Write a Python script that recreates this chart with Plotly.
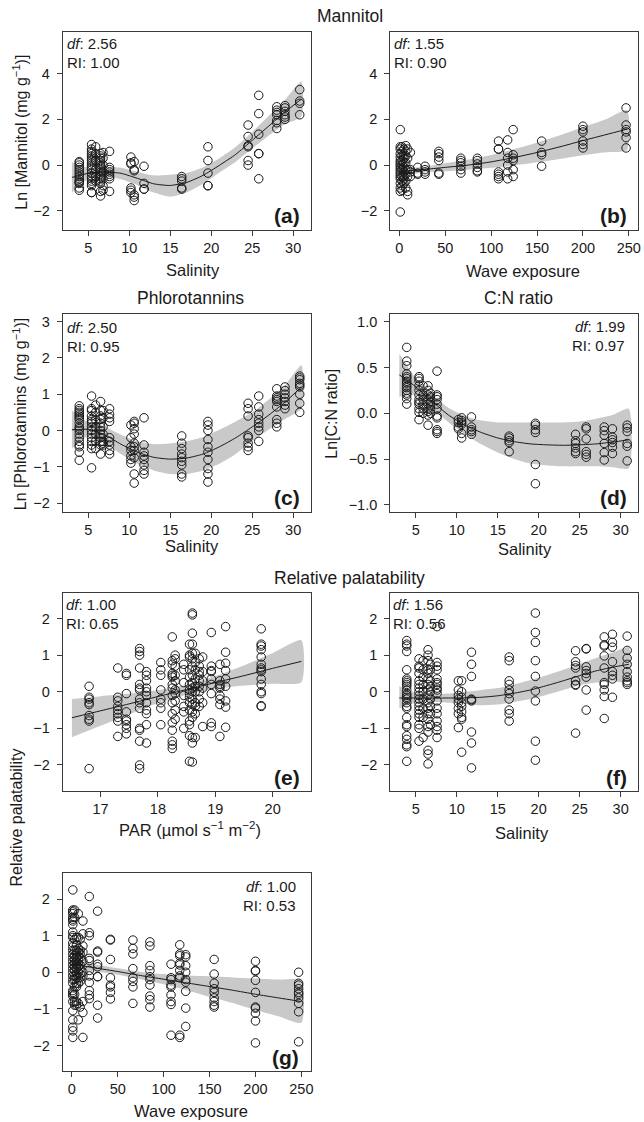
import plotly.graph_objects as go

W, H = 644, 1122
FONT = "Liberation Sans, Arial, sans-serif"

# ---------------- data ----------------
sal_levels = [3.9, 5.4, 5.9, 6.5, 6.8, 7.6, 10.2, 10.6, 11.8, 16.4, 19.6, 24.5, 25.8, 28.0, 29.0, 30.8]

a_vals = [
    [0.15, 0.1, 0.0, -0.1, -0.2, -0.3, -0.4, -0.5, -0.6, -0.7, -0.75, -0.8, -1.0, -1.1],
    [0.9, 0.7, 0.6, 0.5, 0.4, 0.3, 0.2, 0.1, 0.0, -0.1, -0.2, -0.35, -0.5, -0.6, -0.7, -0.8, -0.9, -1.2, -1.2],
    [0.8, 0.5, 0.2, -0.2, -0.5, -0.7],
    [0.5, 0.4, 0.3, 0.2, 0.1, 0.0, -0.1, -0.2, -0.3, -0.4, -0.5, -0.6, -0.7, -0.8, -1.15, -1.35],
    [0.55, 0.3, 0.0, -0.3, -0.6, -0.9, -1.1],
    [0.6, -0.1, -0.2, -0.3, -0.4, -0.5, -0.6, -1.15],
    [0.35, 0.1, 0.05, -1.0, -1.1, -1.2],
    [0.15, -0.2, -0.25, -1.3, -1.4, -1.55],
    [-0.05, -0.8, -1.05, -1.05],
    [-0.5, -0.6, -0.7, -1.0, -1.05],
    [0.8, 0.2, -0.35, -0.9, -0.9],
    [1.75, 1.25, 0.85, 0.8, 0.2, 0.0],
    [3.05, 2.25, 1.35, 0.5, 0.5, -0.6],
    [2.55, 2.4, 2.3, 2.2, 1.95, 1.85, 1.6],
    [2.6, 2.5, 2.35, 2.2, 2.1, 2.0],
    [3.3, 2.8, 2.7, 2.2],
]

c_vals = [
    [0.68, 0.6, 0.55, 0.5, 0.45, 0.4, 0.35, 0.3, 0.2, 0.1, 0.05, 0.0, -0.1, -0.2, -0.3, -0.4, -0.45, -0.6, -0.82],
    [0.95, 0.6, 0.55, 0.4, 0.3, 0.25, 0.2, 0.1, 0.0, -0.1, -0.2, -0.3, -0.4, -0.5, -1.03],
    [0.7, 0.5, 0.3, 0.1, -0.1, -0.3, -0.5],
    [0.8, 0.55, 0.4, 0.3, 0.2, 0.1, 0.0, -0.1, -0.2, -0.3, -0.4, -0.65],
    [0.55, 0.35, 0.1, -0.1, -0.3, -0.35, -0.4],
    [0.6, 0.45, 0.35, 0.25, -0.2, -0.3, -0.4, -0.55, -0.65],
    [0.15, -0.2, -0.45, -0.55, -0.7, -0.8, -0.9],
    [0.25, 0.2, 0.05, -0.1, -0.35, -0.45, -0.55, -0.75, -1.2, -1.45],
    [0.35, -0.4, -0.6, -0.7, -0.8, -0.95, -1.1, -1.2],
    [-0.15, -0.35, -0.5, -0.65, -0.75, -0.85, -0.95, -1.2, -1.28],
    [0.25, 0.15, 0.0, -0.25, -0.45, -0.6, -0.8, -1.05, -1.2, -1.42],
    [0.75, 0.6, 0.4, -0.15, -0.2, -0.35, -0.45, -0.55],
    [0.95, 0.65, 0.45, 0.3, 0.2, 0.1, 0.0, -0.3],
    [1.15, 0.95, 0.9, 0.85, 0.8, 0.65, 0.3, 0.2, 0.1],
    [1.2, 1.1, 1.0, 0.9, 0.8, 0.7, 0.6],
    [1.5, 1.45, 1.4, 1.3, 1.25, 1.2, 1.0, 0.75, 0.5],
]

d_vals = [
    [0.72, 0.57, 0.52, 0.43, 0.4, 0.38, 0.35, 0.33, 0.3, 0.28, 0.25, 0.22, 0.2, 0.16, 0.1],
    [0.4, 0.38, 0.35, 0.3, 0.25, 0.2, 0.15, 0.12, 0.1, 0.05, 0.01, -0.07],
    [0.3, 0.2, 0.15, 0.1, 0.05, 0.0],
    [0.3, 0.25, 0.2, 0.15, 0.1, 0.05, 0.02, -0.02, -0.13],
    [0.22, 0.18, 0.12, 0.08, 0.04, 0.0],
    [0.46, 0.2, 0.18, 0.15, 0.1, 0.05, -0.03, -0.05, -0.18, -0.2, -0.22],
    [-0.07, -0.1, -0.15, -0.17],
    [-0.05, -0.08, -0.1, -0.12, -0.22, -0.27],
    [-0.04, -0.15, -0.18, -0.2, -0.23],
    [-0.25, -0.27, -0.3, -0.32, -0.42],
    [-0.11, -0.13, -0.18, -0.21, -0.56, -0.77],
    [-0.23, -0.3, -0.33, -0.38, -0.42, -0.44],
    [-0.15, -0.17, -0.28, -0.42, -0.45, -0.48],
    [-0.15, -0.19, -0.24, -0.33, -0.43, -0.51],
    [-0.17, -0.26, -0.29, -0.32, -0.37, -0.44],
    [-0.13, -0.16, -0.2, -0.33, -0.36, -0.52],
]

f_vals = [
    [1.4, 1.3, 1.25, 1.1, 0.6, 0.35, 0.3, 0.25, 0.2, 0.15, 0.05, -0.05, -0.1, -0.15, -0.2, -0.3, -0.4, -0.45, -0.7, -0.9, -0.95, -1.2, -1.3, -1.45, -1.5, -1.9],
    [0.9, 0.7, 0.65, 0.5, 0.3, 0.2, 0.1, 0.0, -0.1, -0.2, -0.3, -0.4, -0.5, -0.6, -0.7, -0.9, -1.0, -1.35],
    [0.85, 0.6, 0.4, 0.2, 0.0, -0.2, -0.45, -0.7, -1.25],
    [1.15, 1.0, 0.85, 0.6, 0.5, 0.35, 0.2, 0.05, -0.1, -0.3, -0.45, -0.6, -0.75, -0.95, -1.1, -1.6, -1.7, -1.97],
    [0.75, 0.6, 0.3, 0.15, 0.0, -0.2, -0.4, -0.6, -0.9],
    [1.78, 0.8, 0.7, 0.6, 0.35, 0.25, 0.2, 0.1, 0.05, -0.05, -0.25, -0.45, -0.6, -0.8, -0.95, -1.05, -1.25],
    [0.3, 0.05, -0.1, -0.2, -0.3, -0.45, -0.6, -0.98],
    [0.3, 0.0, -0.15, -0.3, -0.4, -0.55, -0.7, -0.75, -1.65],
    [1.08, 0.75, 0.42, -0.2, -0.22, -0.25, -1.1, -1.4, -2.08],
    [0.95, 0.85, 0.3, 0.2, 0.05, -0.05, -0.2, -0.5, -0.6, -0.8],
    [2.15, 1.62, 1.35, 0.85, 0.42, 0.02, -0.25, -1.35, -1.87],
    [1.12, 0.82, 0.72, 0.65, 0.3, 0.2, 0.18, -1.13],
    [1.18, 1.17, 0.68, 0.58, 0.5, 0.4, 0.05, -0.5],
    [1.5, 1.28, 1.25, 0.98, 0.65, 0.25, 0.2, 0.05, -0.13, -0.73],
    [1.57, 1.35, 1.22, 0.82, 0.55, 0.45, 0.35, -0.15],
    [1.52, 1.13, 0.92, 0.75, 0.55, 0.4, 0.3, 0.25, 0.2],
]

wave_levels_b = [1, 3, 5, 7, 9, 12, 20, 28, 43, 67, 85, 108, 118, 124, 155, 200, 247]
b_vals = [
    [1.55, 0.8, 0.7, 0.5, 0.35, 0.2, 0.1, 0.0, -0.1, -0.2, -0.3, -0.4, -0.5, -0.6, -0.8, -1.0, -1.15, -2.05],
    [0.8, 0.6, 0.4, 0.2, 0.0, -0.2, -0.5, -0.7, -0.9, -1.1],
    [0.7, 0.4, 0.3, 0.1, -0.1, -0.3, -0.5, -0.6, -0.8],
    [0.85, 0.6, 0.4, 0.1, -0.2, -0.4, -0.7, -1.0],
    [0.7, 0.3, -0.2, -0.5, -1.15, -1.3],
    [0.55, -0.2, -0.3, -0.5],
    [-0.1, -0.35, -0.4],
    [-0.05, -0.2, -0.3, -0.4],
    [0.6, 0.5, 0.35, 0.2, -0.35, -0.4],
    [0.3, 0.2, 0.1, -0.05, -0.2, -0.35],
    [0.3, 0.2, 0.05, -0.1, -0.25, -0.3],
    [1.05, 0.7, 0.7, -0.3, -0.4, -0.5, -0.6],
    [1.1, 0.55, 0.3, 0.0, -0.3, -0.6],
    [1.55, 0.45, 0.3, 0.2, -0.2, -0.5],
    [1.05, 0.55, 0.45, -0.05],
    [1.7, 1.55, 1.45, 1.05, 0.9, 0.75],
    [2.5, 1.75, 1.55, 1.45, 1.2, 0.75],
]

wave_levels_g = [1, 3, 5, 7, 9, 12, 19, 28, 42, 66.5, 85, 108, 117.5, 124, 155, 200, 247]
g_vals = [
    [2.25, 1.7, 1.65, 1.6, 1.5, 1.45, 1.4, 1.3, 1.1, 1.0, 0.95, 0.8, 0.7, 0.6, 0.5, 0.4, 0.3, 0.2, 0.1, 0.0, -0.1, -0.2, -0.3, -0.5, -0.55, -0.6, -0.65, -0.8, -1.05, -1.3, -1.5, -1.6, -1.78],
    [1.7, 1.5, 0.9, 0.6, 0.45, 0.35, 0.25, 0.15, 0.05, -0.1, -0.2, -0.4, -0.6, -0.8, -0.9],
    [0.95, 0.75, 0.6, 0.5, 0.4, 0.3, 0.2, 0.1, -0.05, -0.15, -0.3, -0.4, -0.8, -0.9],
    [1.6, 0.95, 0.65, 0.55, 0.45, 0.35, 0.25, 0.15, 0.0, -0.15, -0.3, -0.85, -1.3],
    [0.9, 0.6, 0.5, 0.4, 0.2, 0.1, -0.05, -0.15, -0.25, -0.95],
    [1.4, 1.05, 0.72, 0.55, 0.3, 0.0, -0.1, -0.8, -1.1, -1.78],
    [2.07, 1.08, 1.0, 0.38, 0.32, 0.05, -0.1, -0.28, -0.5, -0.62, -0.72],
    [1.67, 0.58, 0.55, 0.22, 0.15, -0.12, -0.12, -0.9, -1.25],
    [0.9, 0.88, 0.35, -0.15, -0.35, -0.4, -0.55, -0.73],
    [0.88, 0.65, 0.5, 0.1, -0.15, -0.25, -0.4, -0.85],
    [0.83, 0.72, 0.18, 0.05, -0.12, -0.2, -0.35, -0.65, -0.75, -0.95],
    [0.22, -0.15, -0.2, -0.35, -0.4, -0.62, -0.8, -0.88, -1.72],
    [0.75, 0.5, 0.45, 0.25, 0.2, 0.05, -0.1, -0.15, -1.72, -1.78],
    [0.48, 0.42, 0.18, 0.0, -0.2, -0.27, -0.52, -0.98, -1.48],
    [0.35, -0.05, -0.3, -0.45, -0.55, -0.7, -0.8, -0.9, -0.95],
    [0.3, 0.05, 0.03, -0.22, -0.55, -0.95, -0.98, -1.12, -1.33, -1.93],
    [0.0, -0.3, -0.35, -0.45, -0.55, -0.6, -0.7, -0.85, -1.08, -1.9],
]

par_levels = [16.8, 17.3, 17.45, 17.68, 17.8, 18.05, 18.25, 18.3, 18.45, 18.55, 18.6, 18.65, 18.72, 18.78, 18.93, 19.08, 19.18, 19.8]
e_vals = [
    [0.15, -0.15, -0.2, -0.3, -0.35, -0.65, -0.75, -0.8, -2.1],
    [0.65, -0.15, -0.25, -0.4, -0.5, -0.6, -0.7, -0.8, -1.22],
    [0.5, 0.45, -0.05, -0.55, -0.75, -0.8, -0.9, -1.0, -1.15],
    [1.18, 1.1, 1.0, 0.65, 0.2, 0.1, 0.05, -0.2, -0.3, -0.45, -1.0, -1.05, -1.35, -2.0, -2.1],
    [0.55, 0.45, 0.3, 0.1, 0.0, -0.1, -0.3, -0.5, -0.6, -0.9, -1.4],
    [0.8, 0.6, 0.45, 0.05, -0.2, -0.3, -0.45, -0.9],
    [1.5, 0.85, 0.75, 0.5, 0.45, 0.4, 0.2, 0.1, -0.1, -0.3, -0.6, -0.85, -1.05, -1.35, -1.45, -1.55],
    [1.0, 0.9, 0.7, 0.45, 0.3, 0.05, -0.05, -0.25, -0.5, -0.75],
    [0.75, 0.6, 0.25, -0.1, -0.4, -0.55, -1.0],
    [1.3, 1.0, 0.95, 0.6, 0.4, 0.2, 0.05, -0.05, -0.15, -0.3, -0.5, -0.8, -0.9, -1.2, -1.9],
    [2.15, 2.1, 1.6, 1.3, 1.05, 0.9, 0.7, 0.45, 0.25, 0.1, 0.0, -0.2, -0.35, -0.55, -0.7, -1.25, -1.4, -1.92],
    [1.05, 0.8, 0.6, 0.35, 0.15, 0.0, -0.3, -0.4, -0.6, -1.25],
    [0.9, 0.7, 0.55, 0.45, 0.3, 0.15, 0.0, -0.2, -0.4],
    [0.95, 0.55, 0.3, 0.1, -0.3, -0.95],
    [1.62, 0.7, 0.58, 0.55, 0.35, 0.2, -0.05, -0.85, -0.95],
    [0.75, 0.3, 0.2, 0.15, 0.1, -0.1, -0.2, -0.35, -1.22],
    [1.78, 1.08, 0.78, 0.58, 0.35, 0.15, -0.25, -0.42, -0.97],
    [1.72, 1.3, 1.25, 1.15, 0.95, 0.75, 0.65, 0.6, 0.55, 0.35, 0.2, 0.0, -0.05, -0.38, -0.4],
]

# fitted smooths and confidence bands
sal_fit_x = [3, 5, 7, 9, 11, 13, 15, 17, 19, 21, 23, 25, 27, 29, 31]
a_fit = [-0.54, -0.36, -0.3, -0.36, -0.58, -0.82, -0.89, -0.76, -0.45, -0.01, 0.47, 1.08, 1.7, 2.32, 2.88]
a_up = [0.12, -0.12, -0.1, -0.12, -0.3, -0.45, -0.42, -0.35, -0.1, 0.3, 0.8, 1.45, 2.15, 2.85, 3.65]
a_lo = [-1.2, -0.6, -0.5, -0.62, -0.88, -1.2, -1.38, -1.2, -0.82, -0.32, 0.15, 0.72, 1.28, 1.78, 2.12]

c_fit = [0.02, 0.03, -0.12, -0.38, -0.6, -0.74, -0.79, -0.76, -0.65, -0.45, -0.2, 0.1, 0.42, 0.78, 1.2]
c_up = [0.55, 0.22, 0.1, -0.12, -0.3, -0.38, -0.36, -0.3, -0.18, 0.02, 0.25, 0.5, 0.85, 1.25, 1.8]
c_lo = [-0.5, -0.15, -0.35, -0.65, -0.92, -1.1, -1.2, -1.2, -1.1, -0.92, -0.65, -0.3, 0.02, 0.32, 0.6]

d_fit = [0.42, 0.29, 0.13, -0.02, -0.13, -0.21, -0.27, -0.31, -0.335, -0.345, -0.35, -0.345, -0.335, -0.315, -0.29]
d_up = [0.65, 0.38, 0.2, 0.06, -0.03, -0.08, -0.1, -0.1, -0.1, -0.1, -0.1, -0.09, -0.06, -0.02, 0.05]
d_lo = [0.18, 0.2, 0.06, -0.1, -0.23, -0.34, -0.43, -0.5, -0.55, -0.57, -0.58, -0.58, -0.58, -0.59, -0.6]

f_fit = [-0.17, -0.17, -0.17, -0.17, -0.165, -0.15, -0.11, -0.04, 0.05, 0.17, 0.3, 0.44, 0.57, 0.67, 0.75]
f_up = [0.15, -0.03, -0.06, -0.05, 0.0, 0.05, 0.1, 0.2, 0.32, 0.45, 0.6, 0.76, 0.92, 1.07, 1.22]
f_lo = [-0.45, -0.3, -0.28, -0.3, -0.34, -0.37, -0.35, -0.28, -0.2, -0.08, 0.05, 0.18, 0.25, 0.28, 0.28]

wave_fit_x = [0, 25, 50, 75, 100, 125, 150, 175, 200, 225, 248]
b_fit = [-0.28, -0.2, -0.1, 0.0, 0.14, 0.33, 0.55, 0.8, 1.07, 1.33, 1.57]
b_up = [-0.12, -0.08, 0.08, 0.24, 0.44, 0.7, 0.98, 1.3, 1.65, 2.0, 2.4]
b_lo = [-0.45, -0.33, -0.27, -0.2, -0.12, -0.02, 0.12, 0.27, 0.43, 0.56, 0.66]

g_fit_x = [0, 25, 50, 75, 100, 125, 150, 175, 200, 225, 250]
g_fit = [0.22, 0.12, 0.02, -0.09, -0.19, -0.29, -0.39, -0.49, -0.6, -0.7, -0.8]
g_up = [0.34, 0.22, 0.11, 0.01, -0.05, -0.09, -0.11, -0.14, -0.17, -0.2, -0.22]
g_lo = [0.1, 0.02, -0.07, -0.19, -0.33, -0.49, -0.67, -0.84, -1.03, -1.2, -1.38]

par_fit_x = [16.5, 17, 17.5, 18, 18.5, 19, 19.5, 20, 20.5]
e_fit = [-0.71, -0.52, -0.33, -0.13, 0.06, 0.25, 0.44, 0.64, 0.83]
e_up = [-0.2, -0.12, -0.05, 0.04, 0.19, 0.43, 0.72, 1.06, 1.41]
e_lo = [-1.24, -0.93, -0.62, -0.31, -0.08, 0.08, 0.17, 0.22, 0.26]

stats = {
    "a": ("1.00", "2.56"), "b": ("0.90", "1.55"), "c": ("0.95", "2.50"), "d": ("0.97", "1.99"),
    "e": ("0.65", "1.00"), "f": ("0.56", "1.56"), "g": ("0.53", "1.00"),
}

# ---------------- layout helpers ----------------
def fx(px):
    return px / W

def fy(py):
    return 1 - py / H

LEFT = (63, 312)
RIGHT = (392, 641)
ROW1 = (31, 229)
ROW2 = (314, 512)
ROW3 = (593, 791)
ROW4 = (874, 1072)

BAND = "#c9c9c9"
INK = "#1a1a1a"
FRAME = "#3a3a3a"

sal_range = [1.88, 32.12]
wave_range = [-10, 260]
par_range = [16.34, 20.66]

panels = [
    ("a", LEFT, ROW1, sal_levels, a_vals, sal_fit_x, a_fit, a_up, a_lo, sal_range, [-2.82, 5.82], [-2, 0, 2, 4], [5, 10, 15, 20, 25, 30]),
    ("b", RIGHT, ROW1, wave_levels_b, b_vals, wave_fit_x, b_fit, b_up, b_lo, wave_range, [-2.82, 5.82], [-2, 0, 2, 4], [0, 50, 100, 150, 200, 250]),
    ("c", LEFT, ROW2, sal_levels, c_vals, sal_fit_x, c_fit, c_up, c_lo, sal_range, [-2.25, 3.2], [-2, -1, 0, 1, 2, 3], [5, 10, 15, 20, 25, 30]),
    ("d", RIGHT, ROW2, sal_levels, d_vals, sal_fit_x, d_fit, d_up, d_lo, sal_range, [-1.08, 1.08], [-1, -0.5, 0, 0.5, 1], [5, 10, 15, 20, 25, 30]),
    ("e", LEFT, ROW3, par_levels, e_vals, par_fit_x, e_fit, e_up, e_lo, par_range, [-2.7, 2.7], [-2, -1, 0, 1, 2], [17, 18, 19, 20]),
    ("f", RIGHT, ROW3, sal_levels, f_vals, sal_fit_x, f_fit, f_up, f_lo, sal_range, [-2.7, 2.7], [-2, -1, 0, 1, 2], [5, 10, 15, 20, 25, 30]),
    ("g", LEFT, ROW4, wave_levels_g, g_vals, g_fit_x, g_fit, g_up, g_lo, wave_range, [-2.7, 2.7], [-2, -1, 0, 1, 2], [0, 50, 100, 150, 200, 250]),
]

fig = go.Figure()
layout = dict(
    width=W, height=H, autosize=False,
    margin=dict(l=0, r=0, t=0, b=0, pad=0),
    paper_bgcolor="white", plot_bgcolor="white",
    showlegend=False,
    font=dict(family=FONT, color=INK, size=14),
)
annotations = []

def ann(text, px, py, size, xanchor="center", yanchor="middle", angle=0):
    annotations.append(dict(
        text=text, x=fx(px), y=fy(py), xref="paper", yref="paper",
        xanchor=xanchor, yanchor=yanchor, showarrow=False, textangle=angle,
        font=dict(family=FONT, size=size, color=INK),
    ))

def fmt_tick(v, d=False):
    s = f"{abs(v):.1f}" if d else f"{abs(v):g}"
    return ("\u2212" + s) if v < 0 else s

for i, (key, xc, yc, lev, vals, fitx, fit, up, lo, xr, yr, yt, xt) in enumerate(panels, start=1):
    xa = "x" if i == 1 else f"x{i}"
    ya = "y" if i == 1 else f"y{i}"
    fig.add_trace(go.Scatter(
        x=fitx + fitx[::-1], y=up + lo[::-1], mode="lines", fill="toself",
        fillcolor=BAND, line=dict(width=0, color=BAND, shape="spline", smoothing=0.6),
        xaxis=xa, yaxis=ya, hoverinfo="skip"))
    px_, py_ = [], []
    for xv, ys in zip(lev, vals):
        for yv in ys:
            px_.append(xv)
            py_.append(yv)
    fig.add_trace(go.Scatter(
        x=px_, y=py_, mode="markers",
        marker=dict(symbol="circle-open", size=8.5, color=INK, line=dict(width=1, color=INK)),
        xaxis=xa, yaxis=ya))
    fig.add_trace(go.Scatter(
        x=fitx, y=fit, mode="lines", line=dict(color=INK, width=1, shape="spline", smoothing=0.6),
        xaxis=xa, yaxis=ya, hoverinfo="skip"))

    isd = key == "d"
    axis_common = dict(
        showline=True, mirror=True, linecolor=FRAME, linewidth=1,
        ticks="outside", ticklen=5, tickwidth=1, tickcolor=FRAME,
        showgrid=False, zeroline=False,
        tickfont=dict(family=FONT, size=14.5, color=INK),
    )
    layout["xaxis" if i == 1 else f"xaxis{i}"] = dict(
        domain=[fx(xc[0]), fx(xc[1])], range=xr, anchor=ya,
        tickmode="array", tickvals=xt, ticktext=[fmt_tick(v) for v in xt],
        ticklabelstandoff=0, **axis_common)
    layout["yaxis" if i == 1 else f"yaxis{i}"] = dict(
        domain=[fy(yc[1]), fy(yc[0])], range=yr, anchor=xa,
        tickmode="array", tickvals=yt, ticktext=[fmt_tick(v, isd) for v in yt],
        ticklabelstandoff=4, **axis_common)

# ---------------- text ----------------
ann("Mannitol", 352, 15, 17.5)
ann("Phlorotannins", 191, 298, 17.5)
ann("C:N ratio", 521, 298, 17.5)
ann("Relative palatability", 351, 578, 17.5)

ann("Salinity", 194, 269, 16.5)
ann("Wave exposure", 525, 270, 16.5)
ann("Salinity", 193, 546, 16.5)
ann("Salinity", 527, 549, 16.5)
ann("PAR (\u00b5mol s<sup>\u22121</sup> m<sup>\u22122</sup>)", 191, 829, 16.5)
ann("Salinity", 524, 833, 16.5)
ann("Wave exposure", 192, 1112, 16.5)

ann("Ln [Mannitol (mg g<sup>\u22121</sup>)]", 20, 131, 16, angle=-90)
ann("Ln [Phlorotannins (mg g<sup>\u22121</sup>)]", 20, 414, 16, angle=-90)
ann("Ln[C:N ratio]", 333, 413, 16, angle=-90)
ann("Relative palatability", 17, 818, 16, angle=-90)

def stat_block(key, px, py, align):
    ri, df = stats[key]
    ann(f"<i>df</i>: {df}", px, py, 15, xanchor=align)
    ann(f"RI: {ri}", px, py + 19, 15, xanchor=align)

stat_block("a", 65, 43, "left")
stat_block("b", 394, 43, "left")
stat_block("c", 65, 327, "left")
stat_block("d", 630, 326, "right")
stat_block("e", 64, 605, "left")
stat_block("f", 393, 605, "left")
stat_block("g", 299, 887, "right")

for key, px, py in [("a", 303, 215), ("b", 632, 215), ("c", 303, 497), ("d", 632, 497),
                    ("e", 303, 778), ("f", 632, 778), ("g", 302, 1058)]:
    ann(f"<b>({key})</b>", px, py, 21, xanchor="right")

layout["annotations"] = annotations
fig.update_layout(**layout)
fig.write_html("out.html", config={"displayModeBar": False},
               post_script="document.body.style.margin='0';")
